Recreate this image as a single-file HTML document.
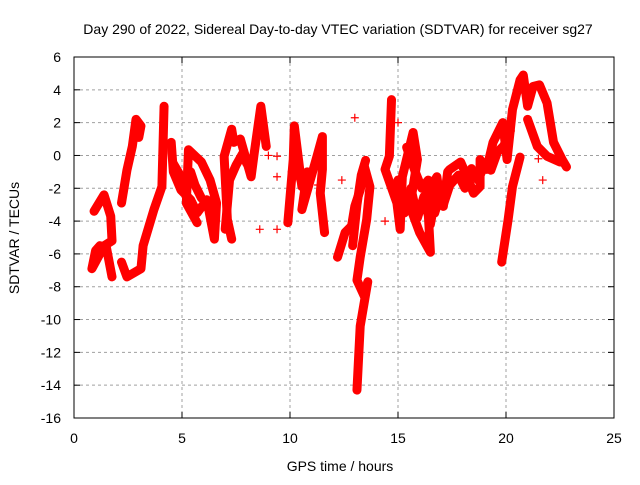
<!DOCTYPE html>
<html><head><meta charset="utf-8"><style>
body{margin:0;background:#fff}
svg text{font-family:"Liberation Sans",sans-serif;font-size:14px;fill:#000}
</style></head><body>
<svg id="chart" width="640" height="480" xmlns="http://www.w3.org/2000/svg">
<text x="338" y="34" text-anchor="middle">Day 290 of 2022, Sidereal Day-to-day VTEC variation (SDTVAR) for receiver sg27</text>
<text x="340" y="471" text-anchor="middle">GPS time / hours</text>
<text transform="translate(19,238) rotate(-90)" text-anchor="middle">SDTVAR / TECUs</text>
<g id="grid"></g><g id="ticks"></g><g id="data"></g>
<rect x="74" y="57" width="540" height="361" fill="none" stroke="#000" stroke-width="1"/>
</svg>
<script>
const xTicks=[0,5,10,15,20,25];
const yTicks=[6,4,2,0,-2,-4,-6,-8,-10,-12,-14,-16];
const trackA_t=[0.93,1.39,1.7,1.76,1.4,0.83,1.0,1.2,1.5,1.76];
const trackA_v=[-3.4,-2.4,-3.7,-5.2,-5.5,-6.9,-5.8,-5.5,-5.6,-7.4];
const trackB_t=[2.2,2.45,3.1,3.2,3.7,4.07,4.17];
const trackB_v=[-6.5,-7.4,-6.9,-5.5,-3.3,-1.9,3.0];
const trackC_t=[2.2,2.45,2.7,2.87,3.1,3.0];
const trackC_v=[-2.9,-0.9,0.55,2.2,1.8,1.1];
const trackD_t=[4.5,4.6,4.95,5.4,5.7,6.15,6.5,6.6,6.3,5.9,5.3,5.2,5.7];
const trackD_v=[0.8,-1.0,-2.1,-2.7,-3.5,-2.7,-5.1,-2.9,-1.5,-0.4,0.35,-2.9,-4.1];
const trackD2_t=[4.6,5.0,5.4,5.6,5.9];
const trackD2_v=[-0.5,-1.4,-1.0,-1.8,-2.6];
const trackE_t=[7.3,7.1,6.95,7.3,7.4,7.7,8.2,8.35,8.65,8.9];
const trackE_v=[-5.1,-3.9,-0.05,1.6,0.8,1.0,-1.3,0.2,3.0,0.55];
const trackE2_t=[7.0,7.2,7.5,7.8,8.0];
const trackE2_v=[-4.5,-1.5,-0.6,0.1,-0.5];
const trackF_t=[9.9,10.15,10.2,10.55,10.8,10.55,11.25,11.5,11.5,11.4,11.6];
const trackF_v=[-4.1,-0.25,1.8,-1.9,-1.0,-3.3,-0.05,1.15,-0.85,-2.3,-4.7];
const trackF2_t=[10.1,10.3,10.5,10.7,10.9];
const trackF2_v=[-1.0,-0.5,-1.5,-2.2,-1.3];
const trackG_t=[12.2,12.55,12.85,13.0,13.25,13.45,13.7,13.55,13.25,13.1,13.45,13.6,13.25,13.1];
const trackG_v=[-6.2,-4.7,-4.3,-3.1,-2.1,-0.7,-1.9,-3.9,-6.2,-7.6,-8.6,-7.7,-10.4,-14.3];
const trackG2_t=[12.9,13.1,13.3,13.5];
const trackG2_v=[-5.5,-3.0,-1.2,-0.3];
const trackH_t=[14.7,14.6,14.4,14.95,15.1,15.2,15.7,15.9,15.55,16.0,16.5,16.35,16.8,16.95,17.1,17.3,17.4,17.9,18.2,18.5,18.8,18.8,19.1,19.4,19.85,20.05,20.3,20.65,20.8,21.0,21.25,21.55,21.9,22.2,22.6,22.8];
const trackH_v=[3.4,-0.05,-0.85,-2.9,-4.5,-1.3,1.4,-0.25,-3.1,-4.7,-5.9,-2.3,-1.3,-2.7,-3.1,-1.0,-0.85,-0.4,-1.3,-2.3,-1.9,-0.25,-0.85,0.8,2.0,-0.25,2.8,4.6,4.9,3.0,4.2,4.3,3.2,0.8,-0.25,-0.7];
const trackH2_t=[15.0,15.3,15.6,15.9,16.2,16.5,16.8,17.1,17.4,17.8,18.1,18.4,18.7,19.0,19.3,19.6,19.9,20.2];
const trackH2_v=[-1.5,-3.5,-2.0,-3.8,-2.5,-4.2,-2.0,-3.0,-1.8,-1.2,-2.0,-0.8,-1.5,-0.6,-0.9,0.2,0.6,1.5];
const trackH3_t=[15.4,15.8,16.1,16.4,16.7,17.0];
const trackH3_v=[0.5,-1.0,-2.0,-1.5,-3.5,-2.2];
const trackI_t=[21.0,21.45,21.9,22.5];
const trackI_v=[2.2,0.55,-0.05,-0.4];
const trackJ_t=[19.8,20.1,20.3,20.65];
const trackJ_v=[-6.5,-3.9,-1.9,-0.1];
const stray_t=[9.4,9.4,9.4,12.4,13.0,8.6,21.7,15.0,9.0,11.3,14.4,21.5];
const stray_v=[-0.05,-1.3,-4.5,-1.5,2.3,-4.5,-1.5,2.0,0.0,-1.8,-4.0,-0.2];
const X=t=>74+t*21.6, Y=v=>57+(6-v)*(361/22);
const NS="http://www.w3.org/2000/svg";
function mk(tag,a,parent){const e=document.createElementNS(NS,tag);for(const k in a)e.setAttribute(k,a[k]);parent.appendChild(e);return e;}
const grid=document.getElementById('grid'),ticks=document.getElementById('ticks'),data=document.getElementById('data');
xTicks.forEach(t=>{
 if(t>0&&t<25){const g=mk('line',{x1:X(t),x2:X(t),y1:57,y2:418,stroke:'#a0a0a0','stroke-dasharray':'3,3'},grid);
 
 }
 mk('line',{x1:X(t),x2:X(t),y1:418,y2:412,stroke:'#000'},ticks);
 mk('line',{x1:X(t),x2:X(t),y1:57,y2:63,stroke:'#000'},ticks);
 const l=mk('text',{x:X(t),y:443,'text-anchor':'middle'},ticks);l.textContent=t;
 
 
});
yTicks.forEach(v=>{
 if(v<6&&v>-16){const g=mk('line',{x1:74,x2:614,y1:Y(v),y2:Y(v),stroke:'#a0a0a0','stroke-dasharray':'3,3'},grid);
 
 }
 mk('line',{x1:74,x2:80,y1:Y(v),y2:Y(v),stroke:'#000'},ticks);
 mk('line',{x1:614,x2:608,y1:Y(v),y2:Y(v),stroke:'#000'},ticks);
 const l=mk('text',{x:61,y:Y(v)+5,'text-anchor':'end'},ticks);l.textContent=v;
 
 
});
const tracks=[[trackA_t,trackA_v],[trackB_t,trackB_v],[trackC_t,trackC_v],[trackD_t,trackD_v],[trackD2_t,trackD2_v],[trackE_t,trackE_v],[trackE2_t,trackE2_v],[trackF_t,trackF_v],[trackF2_t,trackF2_v],[trackG_t,trackG_v],[trackG2_t,trackG2_v],[trackH_t,trackH_v],[trackH2_t,trackH2_v],[trackH3_t,trackH3_v],[trackI_t,trackI_v],[trackJ_t,trackJ_v]];
tracks.forEach(([ts,vs])=>{
 const pts=ts.map((t,i)=>X(t)+','+Y(vs[i])).join(' ');
 const p=mk('polyline',{points:pts,fill:'none',stroke:'#ff0000','stroke-width':9,'stroke-linejoin':'round','stroke-linecap':'round'},data);
 
 
});
function plus(t,v){const x=X(t),y=Y(v);
 const m=mk('path',{d:`M${x-4},${y}h8M${x},${y-4}v8`,stroke:'#ff0000','stroke-width':1.2},data);
 
 }
tracks.forEach(([ts,vs])=>ts.forEach((t,i)=>plus(t,vs[i])));
stray_t.forEach((t,i)=>plus(t,stray_v[i]));
</script>
</body></html>
